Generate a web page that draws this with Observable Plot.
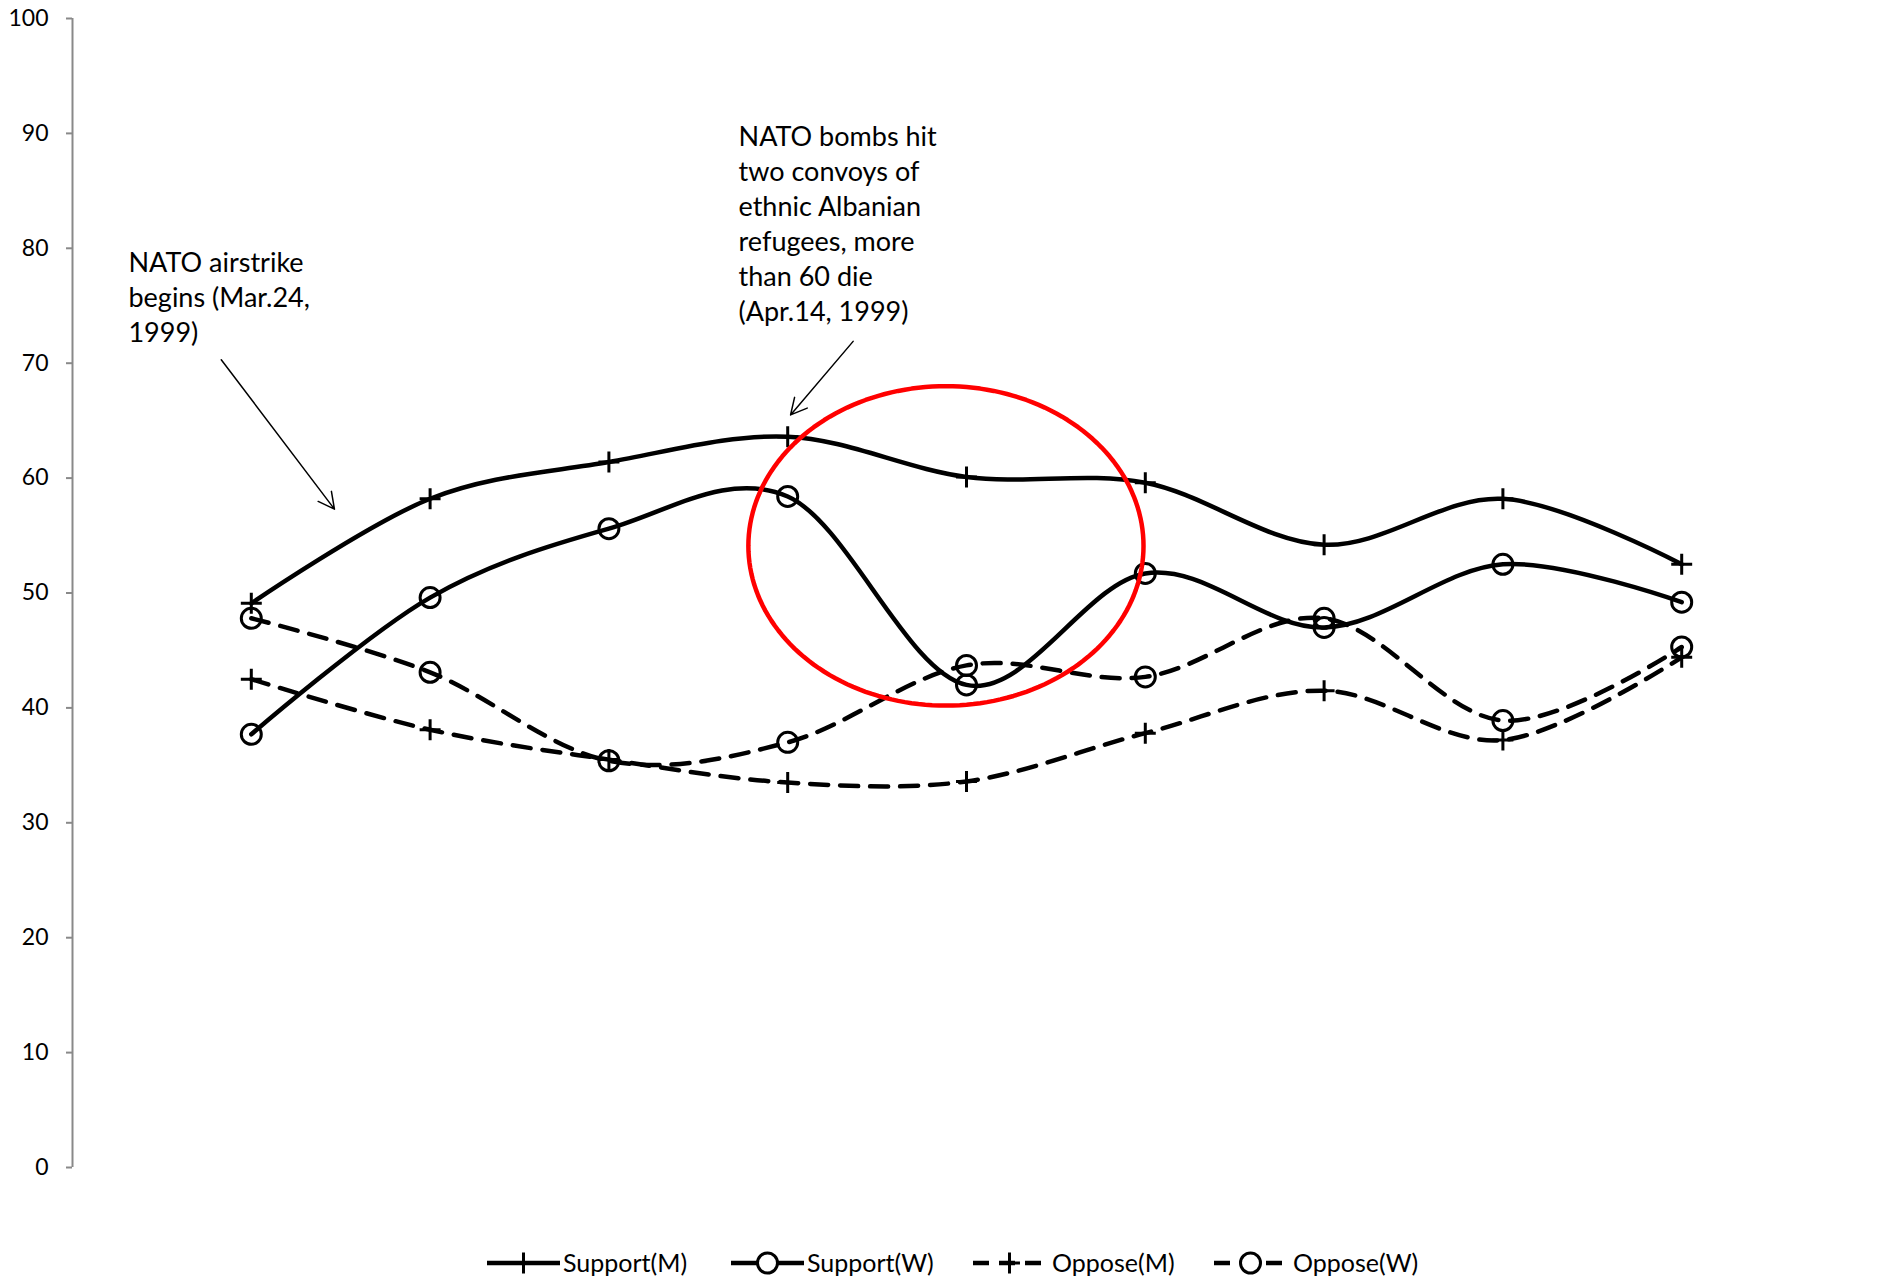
<!DOCTYPE html>
<html><head><meta charset="utf-8">
<script src="https://cdn.jsdelivr.net/npm/d3@7"></script>
<script src="https://cdn.jsdelivr.net/npm/@observablehq/plot@0.6"></script>
<style>
body{margin:0;background:#fff;font-family:Lato,"Open Sans",sans-serif;}
#chart svg{display:block}
</style>
</head><body>
<div id="chart"></div>
<div id="legend"></div>
<script>
// ---- data ----
const waves = [1, 2, 3, 4, 5, 6, 7, 8, 9];
const seriesNames = ["Support(M)", "Support(W)", "Oppose(M)", "Oppose(W)"];
const supportM = [49.1, 58.2, 61.4, 63.6, 60.1, 59.6, 54.2, 58.2, 52.5];
const supportW = [37.7, 49.6, 55.6, 58.4, 42.0, 51.7, 47.0, 52.5, 49.2];
const opposeM  = [42.5, 38.1, 35.5, 33.5, 33.6, 37.8, 41.5, 37.2, 44.4];
const opposeW  = [47.8, 43.1, 35.4, 37.0, 43.7, 42.7, 47.8, 38.9, 45.3];
const yTicks = [0, 10, 20, 30, 40, 50, 60, 70, 80, 90, 100];

const annotationTexts = [
  "NATO airstrike\nbegins (Mar.24,\n1999)",
  "NATO bombs hit\ntwo convoys of\nethnic Albanian\nrefugees, more\nthan 60 die\n(Apr.14, 1999)"
];
const annotationX = [0.313, 3.725];
const annotationY = [75.85, 82.25];
const arrowX1 = [0.832, 4.366];
const arrowY1 = [70.3, 71.9];
const arrowX2 = [1.465, 4.016];
const arrowY2 = [57.3, 65.5];
// highlight ellipse (center & radii in data units)
const ellipseCx = 4.885, ellipseCy = 54.1, ellipseRx = 1.105, ellipseRy = 13.9;

// ---- styles ----
const styleBySeries = {
  "Support(M)": {symbol: "plus", dash: null},
  "Support(W)": {symbol: "circle", dash: null},
  "Oppose(M)": {symbol: "plus", dash: "18,12"},
  "Oppose(W)": {symbol: "circle", dash: "18,12"}
};
const valuesBySeries = {
  "Support(M)": supportM, "Support(W)": supportW,
  "Oppose(M)": opposeM, "Oppose(W)": opposeW
};
const plusR = 6.8, circleR = 10;

const rows = seriesNames.flatMap(name =>
  valuesBySeries[name].map((v, i) => ({series: name, x: waves[i], y: v})));

const ellipse = d3.range(0, 360, 2).map(a => ({
  x: ellipseCx + ellipseRx * Math.cos(a * Math.PI / 180),
  y: ellipseCy + ellipseRy * Math.sin(a * Math.PI / 180)
}));
const annotations = annotationTexts.map((t, i) => ({text: t, x: annotationX[i], y: annotationY[i]}));
const arrows = arrowX1.map((_, i) => ({x1: arrowX1[i], y1: arrowY1[i], x2: arrowX2[i], y2: arrowY2[i]}));

const marks = [
  Plot.ruleX([0], {y1: 0, y2: 100, stroke: "#898989", strokeWidth: 2})
];
for (const name of seriesNames) {
  const st = styleBySeries[name];
  const d = rows.filter(r => r.series === name);
  marks.push(Plot.line(d, {x: "x", y: "y", curve: "cardinal", stroke: "#000", strokeWidth: 4.5,
    strokeDasharray: st.dash || undefined}));
  marks.push(Plot.dot(d, {x: "x", y: "y", symbol: st.symbol, r: st.symbol === "plus" ? plusR : circleR,
    stroke: "#000", strokeWidth: 3, fill: "none"}));
}
marks.push(Plot.line(ellipse, {x: "x", y: "y", curve: "linear-closed", stroke: "#ff0000", strokeWidth: 4.5}));
marks.push(Plot.arrow(arrows, {x1: "x1", y1: "y1", x2: "x2", y2: "y2", stroke: "#000", strokeWidth: 1.5,
  headLength: 18, headAngle: 55}));
marks.push(Plot.text(annotations, {x: "x", y: "y", text: "text", textAnchor: "start", lineAnchor: "middle",
  lineHeight: 1.3, fontSize: 27, fill: "#000"}));

const chart = Plot.plot({
  width: 1891,
  height: 1225,
  marginLeft: 72,
  marginRight: 31,
  marginTop: 18,
  marginBottom: 58,
  style: {fontFamily: "Lato, 'Open Sans', sans-serif", background: "#fff", color: "#000", fontSize: "23px"},
  x: {domain: [0, 10], axis: null},
  y: {domain: [0, 100], ticks: yTicks, tickSize: 6, tickPadding: 18, label: null},
  marks
});
document.getElementById("chart").appendChild(chart);
// axis styling: grey tick marks, black labels
d3.select(chart).selectAll('g[aria-label="y-axis"] .tick line, g[aria-label="y-axis tick"] path')
  .attr("stroke", "#898989").attr("stroke-width", 2);
d3.select(chart).selectAll('g[aria-label="y-axis"] .tick text, g[aria-label="y-axis tick label"] text')
  .attr("font-size", 23).attr("fill", "#000");

// ---- legend ----
const lg = d3.select("#legend").append("svg").attr("width", 1891).attr("height", 53)
  .style("display", "block").style("font-family", "Lato, 'Open Sans', sans-serif");
const legendStart = [487, 731, 973, 1214];
const sampleLen = 73;
seriesNames.forEach((name, i) => {
  const st = styleBySeries[name];
  const g = lg.append("g").attr("transform", `translate(${legendStart[i]},38)`);
  g.append("line").attr("x1", 0).attr("x2", sampleLen).attr("y1", 0).attr("y2", 0)
    .attr("stroke", "#000").attr("stroke-width", 4.5)
    .attr("stroke-dasharray", st.dash ? "16,10" : null);
  const sym = st.symbol === "plus" ? d3.symbolPlus : d3.symbolCircle;
  const r = st.symbol === "plus" ? plusR : circleR;
  g.append("path").attr("transform", `translate(${sampleLen / 2},0)`)
    .attr("d", d3.symbol(sym, Math.PI * r * r)())
    .attr("fill", st.symbol === "plus" ? "none" : "#fff").attr("stroke", "#000").attr("stroke-width", 3);
  g.append("text").attr("x", sampleLen + 3 + (st.dash ? 3 : 0)).attr("y", 0).attr("dy", "0.35em")
    .attr("font-size", 25).attr("fill", "#000").text(name);
});
</script>
</body></html>
